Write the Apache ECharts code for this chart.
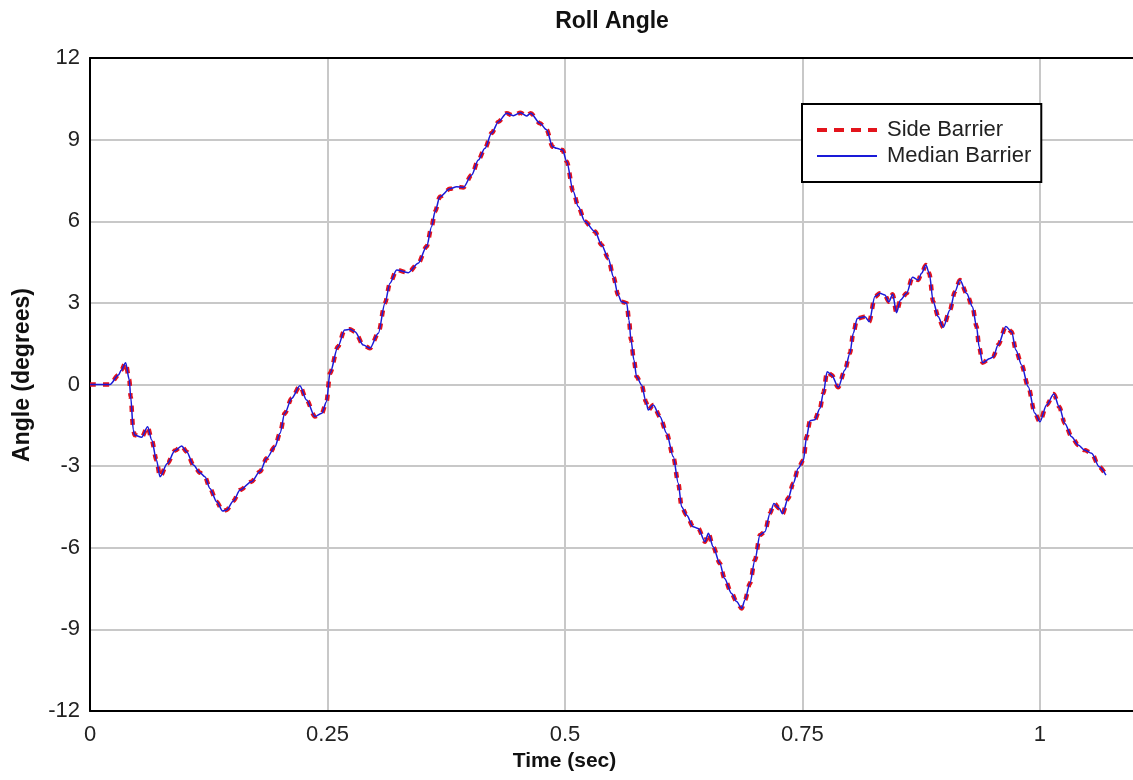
<!DOCTYPE html>
<html>
<head>
<meta charset="utf-8">
<title>Roll Angle</title>
<script src="https://cdn.jsdelivr.net/npm/echarts@6/dist/echarts.min.js"></script>
<style>
  html, body { margin: 0; padding: 0; background: #fff; }
  #chart { width: 1133px; height: 780px; }
</style>
</head>
<body>
<div id="chart"></div>
<script>
// Time samples (sec)
const timeSec = [
  0.000, 0.021, 0.030, 0.033, 0.0375, 0.0414, 0.0428, 0.0456, 0.047, 0.0544,
  0.0607, 0.065, 0.070, 0.0737, 0.0814, 0.0895, 0.0965, 0.1018, 0.1088, 0.1158,
  0.121, 0.1263, 0.1333, 0.1397, 0.1439, 0.1509, 0.158, 0.170, 0.179, 0.186,
  0.1947, 0.200, 0.205, 0.2123, 0.221, 0.228, 0.2368, 0.244, 0.249, 0.2526,
  0.261, 0.268, 0.2737, 0.279, 0.2877, 0.2947, 0.3035, 0.3105, 0.3158, 0.3228,
  0.335, 0.3456, 0.3544, 0.3596, 0.3632, 0.3684, 0.379, 0.386, 0.393, 0.4018,
  0.4088, 0.4158, 0.4228, 0.430, 0.4386, 0.4456, 0.4533, 0.4596, 0.4639, 0.4737,
  0.4807, 0.487, 0.4912, 0.4975, 0.5018, 0.5088, 0.514, 0.521, 0.5316, 0.5386,
  0.5456, 0.551, 0.556, 0.5596, 0.565, 0.5674, 0.5695, 0.5726, 0.5754, 0.5807,
  0.5853, 0.5877, 0.593, 0.600, 0.607, 0.614, 0.6193, 0.6228, 0.628, 0.635,
  0.6403, 0.6474, 0.651, 0.656, 0.663, 0.668, 0.6754, 0.6807, 0.686, 0.6895,
  0.6947, 0.700, 0.7053, 0.7105, 0.7158, 0.720, 0.7256, 0.729, 0.735, 0.7404,
  0.7456, 0.751, 0.7544, 0.758, 0.763, 0.7684, 0.772, 0.776, 0.7807, 0.7877,
  0.7947, 0.800, 0.8035, 0.8077, 0.8158, 0.8203, 0.8263, 0.8316, 0.8368, 0.841,
  0.845, 0.849, 0.8533, 0.8596, 0.8659, 0.8719, 0.8754, 0.880, 0.8835, 0.8877,
  0.893, 0.8982, 0.9053, 0.9105, 0.9158, 0.9228, 0.929, 0.9333, 0.936, 0.9396,
  0.9474, 0.9509, 0.956, 0.9642, 0.9702, 0.9747, 0.9807, 0.9877, 0.9947, 1.000,
  1.007, 1.0147, 1.0203, 1.0263, 1.0333, 1.0403, 1.047, 1.0544, 1.0624, 1.0695
];

// Roll angle (degrees), side barrier impact
const sideBarrier = [
  0.00, 0.00, 0.35, 0.53, 0.80, 0.17, -0.45, -1.67, -1.86, -1.94,
  -1.55, -2.04, -2.78, -3.39, -2.90, -2.43, -2.26, -2.47, -2.96, -3.24,
  -3.39, -3.82, -4.31, -4.65, -4.61, -4.28, -3.88, -3.57, -3.20, -2.71,
  -2.29, -1.79, -1.06, -0.51, -0.05, -0.57, -1.18, -1.06, -0.63, 0.41,
  1.39, 2.00, 2.03, 1.94, 1.45, 1.33, 1.88, 2.99, 3.72, 4.21,
  4.11, 4.46, 5.07, 5.80, 6.35, 6.90, 7.19, 7.27, 7.24, 7.70,
  8.25, 8.68, 9.24, 9.66, 9.97, 9.88, 9.99, 9.87, 9.97, 9.60,
  9.36, 8.74, 8.68, 8.62, 8.20, 7.09, 6.54, 5.99, 5.62, 5.13,
  4.64, 3.96, 3.29, 3.04, 2.99, 2.37, 1.64, 0.90, 0.29, -0.02,
  -0.63, -0.94, -0.75, -1.18, -1.79, -2.65, -3.63, -4.49, -4.80, -5.23,
  -5.29, -5.78, -5.47, -5.96, -6.57, -7.13, -7.68, -7.98, -8.23, -7.92,
  -7.31, -6.45, -5.53, -5.41, -4.74, -4.37, -4.55, -4.75, -4.18, -3.63,
  -3.08, -2.78, -1.92, -1.33, -1.30, -0.88, -0.32, 0.47, 0.35, -0.10,
  0.53, 1.15, 1.88, 2.43, 2.49, 2.31, 3.23, 3.35, 3.29, 3.04,
  3.32, 2.64, 3.11, 3.35, 3.94, 3.84, 4.09, 4.39, 4.09, 3.04,
  2.49, 2.10, 2.74, 3.41, 3.84, 3.35, 2.86, 2.13, 1.39, 0.80,
  0.96, 1.02, 1.45, 2.13, 1.94, 1.27, 0.72, -0.08, -1.06, -1.37,
  -0.75, -0.35, -0.82, -1.43, -1.92, -2.22, -2.41, -2.53, -3.02, -3.33
];

// Roll angle (degrees), median barrier impact
const medianBarrier = [
  0.00, 0.00, 0.35, 0.53, 0.80, 0.17, -0.45, -1.67, -1.86, -1.94,
  -1.55, -2.04, -2.78, -3.39, -2.90, -2.43, -2.26, -2.47, -2.96, -3.24,
  -3.39, -3.82, -4.31, -4.65, -4.61, -4.28, -3.88, -3.57, -3.20, -2.71,
  -2.29, -1.79, -1.06, -0.51, -0.05, -0.57, -1.18, -1.06, -0.63, 0.41,
  1.39, 2.00, 2.03, 1.94, 1.45, 1.33, 1.88, 2.99, 3.72, 4.21,
  4.11, 4.46, 5.07, 5.80, 6.35, 6.90, 7.19, 7.27, 7.24, 7.70,
  8.25, 8.68, 9.24, 9.66, 9.97, 9.88, 9.99, 9.87, 9.97, 9.60,
  9.36, 8.74, 8.68, 8.62, 8.20, 7.09, 6.54, 5.99, 5.62, 5.13,
  4.64, 3.96, 3.29, 3.04, 2.99, 2.37, 1.64, 0.90, 0.29, -0.02,
  -0.63, -0.94, -0.75, -1.18, -1.79, -2.65, -3.63, -4.49, -4.80, -5.23,
  -5.29, -5.78, -5.47, -5.96, -6.57, -7.13, -7.68, -7.98, -8.23, -7.92,
  -7.31, -6.45, -5.53, -5.41, -4.74, -4.37, -4.55, -4.75, -4.18, -3.63,
  -3.08, -2.78, -1.92, -1.33, -1.30, -0.88, -0.32, 0.47, 0.35, -0.10,
  0.53, 1.15, 1.88, 2.43, 2.49, 2.31, 3.23, 3.35, 3.29, 3.04,
  3.32, 2.64, 3.11, 3.35, 3.94, 3.84, 4.09, 4.39, 4.09, 3.04,
  2.49, 2.10, 2.74, 3.41, 3.84, 3.35, 2.86, 2.13, 1.39, 0.80,
  0.96, 1.02, 1.45, 2.13, 1.94, 1.27, 0.72, -0.08, -1.06, -1.37,
  -0.75, -0.35, -0.82, -1.43, -1.92, -2.22, -2.41, -2.53, -3.02, -3.33
];

const seriesNames = ['Side Barrier', 'Median Barrier'];

const FONT = "'Liberation Sans', Arial, Helvetica, sans-serif";
const T_MIN = 0;
const T_MAX = 1.098;

const pairs = (vals) => timeSec.map((t, i) => [t, vals[i]]);

const chart = echarts.init(document.getElementById('chart'), null, { renderer: 'canvas' });

chart.setOption({
  backgroundColor: '#ffffff',
  animation: false,
  title: {
    text: 'Roll Angle',
    left: 607,
    top: 5,
    textAlign: 'center',
    textStyle: { fontFamily: FONT, fontSize: 23, fontWeight: 'bold', color: '#111' }
  },
  legend: {
    orient: 'vertical',
    left: 802,
    top: 104,
    padding: [15, 10, 15, 13],
    itemGap: 4,
    itemWidth: 60,
    itemHeight: 20,
    borderColor: '#000',
    borderWidth: 2,
    backgroundColor: '#fff',
    // hide the marker drawn in the middle of each line sample
    itemStyle: { opacity: 0 },
    data: [
      { name: seriesNames[0], lineStyle: { type: [10, 7], width: 4 } },
      { name: seriesNames[1] }
    ],
    textStyle: { fontFamily: FONT, fontSize: 22, color: '#222', padding: [0, 0, 0, 5] }
  },
  grid: {
    left: 90,
    top: 58,
    right: 0,
    height: 653,
    show: false
  },
  xAxis: [
    {
      type: 'value',
      min: T_MIN,
      max: T_MAX,
      interval: 0.25,
      name: 'Time (sec)',
      nameLocation: 'middle',
      nameGap: 39,
      nameTextStyle: {
        fontFamily: FONT, fontSize: 21, fontWeight: 'bold', color: '#111',
        padding: [0, 94, 0, 0]
      },
      axisLine: { show: true, onZero: false, lineStyle: { color: '#000', width: 2 } },
      axisTick: { show: false },
      axisLabel: {
        margin: 13,
        showMaxLabel: false,
        fontFamily: FONT, fontSize: 22, color: '#222',
        formatter: (v) => String(v)
      },
      splitLine: {
        show: true, showMinLine: false, showMaxLine: false,
        lineStyle: { color: '#c8c8c8', width: 2 }
      }
    },
    {
      // top frame edge
      type: 'value',
      position: 'top',
      min: T_MIN,
      max: T_MAX,
      axisLine: { show: true, onZero: false, lineStyle: { color: '#000', width: 2 } },
      axisTick: { show: false },
      axisLabel: { show: false },
      splitLine: { show: false }
    }
  ],
  yAxis: {
    type: 'value',
    min: -12,
    max: 12,
    interval: 3,
    name: 'Angle (degrees)',
    nameLocation: 'middle',
    nameRotate: 90,
    nameGap: 56,
    nameTextStyle: {
      fontFamily: FONT, fontSize: 23, fontWeight: 'bold', color: '#111',
      padding: [0, 0, 0, 19]
    },
    axisLine: { show: true, onZero: false, lineStyle: { color: '#000', width: 2 } },
    axisTick: { show: false },
    axisLabel: { margin: 10, fontFamily: FONT, fontSize: 22, color: '#222' },
    splitLine: {
      show: true, showMinLine: false, showMaxLine: false,
      lineStyle: { color: '#c8c8c8', width: 2 }
    }
  },
  series: [
    {
      name: seriesNames[0],
      type: 'line',
      xAxisIndex: 0,
      data: pairs(sideBarrier),
      showSymbol: false,
      smooth: 0.3,
      smoothMonotone: 'x',
      lineStyle: { color: '#e3141c', width: 4.5, type: [6, 7] },
      itemStyle: { color: '#e3141c' },
      z: 2
    },
    {
      name: seriesNames[1],
      type: 'line',
      xAxisIndex: 0,
      data: pairs(medianBarrier),
      showSymbol: false,
      smooth: 0.3,
      smoothMonotone: 'x',
      lineStyle: { color: '#1a1ad8', width: 1.5 },
      itemStyle: { color: '#1a1ad8' },
      z: 3
    }
  ]
});
</script>
</body>
</html>
